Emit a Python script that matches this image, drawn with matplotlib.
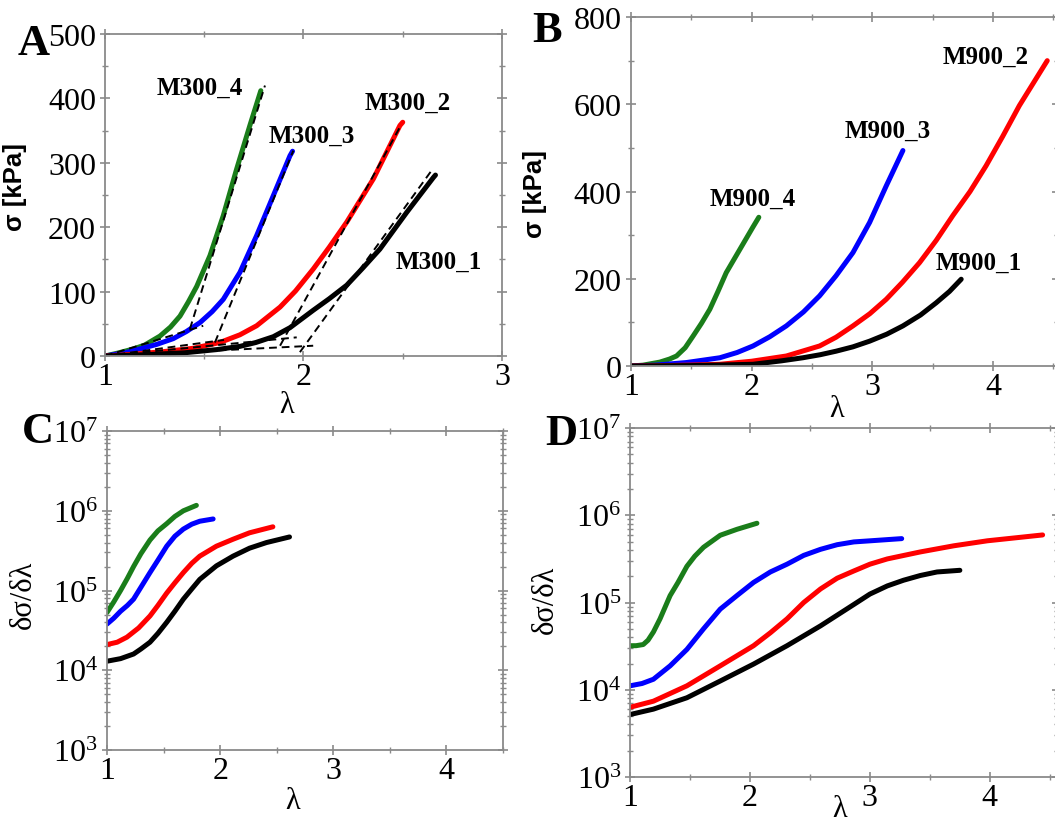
import numpy as np
import matplotlib
matplotlib.use("Agg")
from matplotlib import pyplot as plt
from matplotlib.ticker import MultipleLocator, LogLocator, NullFormatter

plt.rcParams['font.family'] = ['Liberation Serif', 'DejaVu Serif']
plt.rcParams['mathtext.fontset'] = 'custom'
plt.rcParams['mathtext.rm'] = 'Liberation Serif'
plt.rcParams['mathtext.it'] = 'Liberation Serif:italic'

GREEN, BLUE, RED, BLACK = '#1a7d1a', '#0000ff', '#ff0000', '#000000'
SPINE = '#8a8a8a'

# ---- panel A : M300 stress-stretch ----
a4_x = [1.0, 1.07, 1.143, 1.20, 1.277, 1.33, 1.378, 1.42, 1.462, 1.529, 1.596, 1.663, 1.730, 1.785]
a4_y = [0, 5, 11, 17, 31, 45, 62, 84, 108, 156, 218, 290, 358, 412]
a3_x = [1.0, 1.1, 1.176, 1.26, 1.344, 1.41, 1.479, 1.54, 1.596, 1.68, 1.764, 1.848, 1.932, 1.945]
a3_y = [0, 5, 11, 18, 27, 38, 52, 69, 88, 130, 187, 249, 311, 318]
a2_x = [1.0, 1.15, 1.3, 1.445, 1.579, 1.68, 1.764, 1.882, 1.96, 2.049, 2.13, 2.218, 2.352, 2.486, 2.50]
a2_y = [0, 3, 7, 12, 21, 33, 47, 76, 101, 135, 169, 208, 275, 358, 363]
a1_x = [1.0, 1.2, 1.4, 1.563, 1.68, 1.76, 1.848, 1.932, 2.049, 2.13, 2.218, 2.30, 2.385, 2.52, 2.654, 2.665]
a1_y = [0, 2, 5, 10, 15, 21, 30, 44, 71, 89, 110, 137, 166, 223, 277, 281]

# tangent lines (low / high strain) : (x0, x1), (y0, y1)
tan_low = [((1.0, 1.495), (0, 47)), ((1.0, 1.60), (0, 25)),
           ((1.0, 1.966), (0, 29)), ((1.0, 2.049), (0, 16))]
tan_high = [((1.428, 1.806), (42, 420)), ((1.554, 1.949), (21, 319)),
            ((1.882, 2.494), (16, 360)), ((1.982, 2.65), (6, 290))]

a_labels = ['M300_4', 'M300_3', 'M300_2', 'M300_1']
a_label_pos = [(1.479, 418), (2.043, 343), (2.526, 394), (2.68, 147)]

# ---- panel B : M900 stress-stretch ----
b4_x = [1.0, 1.1, 1.24, 1.32, 1.378, 1.45, 1.516, 1.585, 1.654, 1.72, 1.79, 1.90, 2.01, 2.06]
b4_y = [0, 2, 9, 16, 23, 42, 69, 98, 130, 170, 214, 266, 318, 341]
b3_x = [1.0, 1.2, 1.46, 1.737, 1.88, 2.012, 2.15, 2.288, 2.43, 2.564, 2.70, 2.84, 2.978, 3.116, 3.254]
b3_y = [0, 2, 8, 19, 31, 46, 67, 92, 124, 161, 207, 260, 329, 413, 494]
b2_x = [1.0, 1.3, 1.737, 2.0, 2.288, 2.564, 2.70, 2.84, 2.98, 3.116, 3.25, 3.392, 3.53,
        3.668, 3.81, 3.943, 4.08, 4.219, 4.45]
b2_y = [0, 1, 4, 11, 23, 46, 66, 92, 120, 153, 192, 237, 288, 345, 400, 459, 526, 597, 700]
b1_x = [1.0, 1.5, 2.012, 2.25, 2.426, 2.57, 2.70, 2.84, 2.978, 3.12, 3.254, 3.40, 3.53, 3.64, 3.737]
b1_y = [0, 1, 4, 12, 19, 26, 34, 44, 57, 73, 92, 117, 145, 171, 199]

b_labels = ['M900_4', 'M900_3', 'M900_2', 'M900_1']
b_label_pos = [(2.01, 385), (3.13, 541), (3.94, 709), (3.88, 238)]

# ---- panel C : M300 tangent modulus ----
c4_x = [1.0, 1.06, 1.12, 1.18, 1.235, 1.30, 1.38, 1.45, 1.528, 1.60, 1.675, 1.79]
c4_y = [5.3e4, 7.2e4, 1.0e5, 1.42e5, 2.0e5, 2.9e5, 4.3e5, 5.6e5, 6.9e5, 8.5e5, 1.0e6, 1.17e6]
c3_x = [1.0, 1.06, 1.12, 1.18, 1.235, 1.30, 1.38, 1.45, 1.528, 1.60, 1.675, 1.75, 1.82, 1.938]
c3_y = [3.8e4, 4.5e4, 5.5e4, 6.5e4, 7.8e4, 1.1e5, 1.68e5, 2.4e5, 3.6e5, 4.8e5, 5.9e5, 6.8e5, 7.4e5, 7.9e5]
c2_x = [1.0, 1.09, 1.176, 1.28, 1.38, 1.45, 1.528, 1.60, 1.675, 1.75, 1.82, 1.967, 2.114, 2.26, 2.466]
c2_y = [2.1e4, 2.25e4, 2.6e4, 3.4e4, 4.8e4, 6.5e4, 9.3e4, 1.25e5, 1.68e5, 2.2e5, 2.7e5,
        3.6e5, 4.4e5, 5.3e5, 6.3e5]
c1_x = [1.0, 1.12, 1.235, 1.30, 1.38, 1.45, 1.528, 1.60, 1.675, 1.75, 1.82, 1.967, 2.114,
        2.26, 2.41, 2.613]
c1_y = [1.3e4, 1.4e4, 1.6e4, 1.85e4, 2.25e4, 2.9e4, 4.0e4, 5.5e4, 7.8e4, 1.05e5, 1.38e5,
        2.04e5, 2.7e5, 3.4e5, 4.0e5, 4.7e5]

# ---- panel D : M900 tangent modulus ----
d4_x = [1.0, 1.05, 1.11, 1.15, 1.195, 1.25, 1.334, 1.40, 1.474, 1.54, 1.613, 1.752, 1.891, 2.058]
d4_y = [3.2e4, 3.2e4, 3.3e4, 3.7e4, 4.6e4, 6.5e4, 1.2e5, 1.7e5, 2.6e5, 3.4e5, 4.3e5,
        5.9e5, 6.9e5, 8.1e5]
d3_x = [1.0, 1.1, 1.195, 1.334, 1.474, 1.613, 1.752, 1.891, 2.03, 2.17, 2.309,
        2.448, 2.588, 2.727, 2.866, 3.005, 3.265]
d3_y = [1.11e4, 1.18e4, 1.32e4, 1.88e4, 2.9e4, 5.0e4, 8.4e4, 1.2e5, 1.7e5, 2.24e5, 2.75e5,
        3.47e5, 4.07e5, 4.6e5, 4.95e5, 5.1e5, 5.4e5]
d2_x = [1.0, 1.195, 1.474, 1.752, 2.03, 2.17, 2.309, 2.448, 2.588, 2.727, 2.866,
        3.0, 3.145, 3.42, 3.70, 3.98, 4.26, 4.44]
d2_y = [6.3e3, 7.4e3, 1.11e4, 1.88e4, 3.2e4, 4.5e4, 6.5e4, 1.0e5, 1.43e5, 1.9e5, 2.3e5,
        2.75e5, 3.16e5, 3.8e5, 4.47e5, 5.1e5, 5.6e5, 5.95e5]
d1_x = [1.0, 1.195, 1.474, 1.752, 2.03, 2.309, 2.588, 2.866, 3.0, 3.145, 3.28,
        3.42, 3.56, 3.75]
d1_y = [5.2e3, 6.0e3, 8.1e3, 1.26e4, 1.97e4, 3.2e4, 5.4e4, 9.5e4, 1.25e5, 1.55e5, 1.8e5,
        2.04e5, 2.24e5, 2.34e5]

colors = [GREEN, BLUE, RED, BLACK]


def style_axes(ax):
    for s in ax.spines.values():
        s.set_color(SPINE)
        s.set_linewidth(1.3)
    ax.tick_params(which='both', direction='inout', top=True, right=True,
                   color=SPINE, labelsize=23, pad=3)
    ax.tick_params(which='major', length=7, width=1.2)
    ax.tick_params(which='minor', length=5, width=1.0)
    ax.tick_params(axis='x', which='major', pad=1)


fig = plt.figure(figsize=(10.55, 8.2), dpi=100)

axA = fig.add_axes([0.0995, 0.5646, 0.3763, 0.3927])
axB = fig.add_axes([0.598, 0.5524, 0.4038, 0.4256])
axC = fig.add_axes([0.1014, 0.0841, 0.3754, 0.389])
axD = fig.add_axes([0.5972, 0.0512, 0.4047, 0.4256])

# panel A
for (x, y), c in zip([(a4_x, a4_y), (a3_x, a3_y), (a2_x, a2_y), (a1_x, a1_y)], colors):
    axA.plot(x, y, color=c, lw=3.6, solid_capstyle='round', solid_joinstyle='round')
for (xs, ys) in tan_low + tan_high:
    axA.plot(xs, ys, color='black', lw=1.4, ls=(0, (4, 2.5)))
for lab, (x, y) in zip(a_labels, a_label_pos):
    axA.text(x, y, lab, fontsize=18, fontweight='bold', ha='center', va='center')
axA.set_xlim(1, 3)
axA.set_ylim(0, 500)
axA.xaxis.set_major_locator(MultipleLocator(1))
axA.xaxis.set_minor_locator(MultipleLocator(0.5))
axA.yaxis.set_major_locator(MultipleLocator(100))
axA.yaxis.set_minor_locator(MultipleLocator(50))
style_axes(axA)

# panel B
for (x, y), c in zip([(b4_x, b4_y), (b3_x, b3_y), (b2_x, b2_y), (b1_x, b1_y)], colors):
    axB.plot(x, y, color=c, lw=3.6, solid_capstyle='round', solid_joinstyle='round')
for lab, (x, y) in zip(b_labels, b_label_pos):
    axB.text(x, y, lab, fontsize=18, fontweight='bold', ha='center', va='center')
axB.set_xlim(1, 4.53)
axB.set_ylim(0, 800)
axB.xaxis.set_major_locator(MultipleLocator(1))
axB.xaxis.set_minor_locator(MultipleLocator(0.5))
axB.yaxis.set_major_locator(MultipleLocator(200))
axB.yaxis.set_minor_locator(MultipleLocator(100))
style_axes(axB)

# panels C, D
for ax, series, xmax in [(axC, [(c4_x, c4_y), (c3_x, c3_y), (c2_x, c2_y), (c1_x, c1_y)], 4.5),
                         (axD, [(d4_x, d4_y), (d3_x, d3_y), (d2_x, d2_y), (d1_x, d1_y)], 4.56)]:
    for (x, y), c in zip(series, colors):
        ax.plot(x, y, color=c, lw=3.6, solid_capstyle='round', solid_joinstyle='round')
    ax.set_yscale('log')
    ax.set_xlim(1, xmax)
    ax.set_ylim(1e3, 1e7)
    ax.xaxis.set_major_locator(MultipleLocator(1))
    ax.xaxis.set_minor_locator(MultipleLocator(0.5))
    ax.yaxis.set_major_locator(LogLocator(base=10, numticks=10))
    ax.yaxis.set_minor_locator(LogLocator(base=10, subs=np.arange(2, 10), numticks=20))
    ax.yaxis.set_minor_formatter(NullFormatter())
    style_axes(ax)

# axis labels
for ax, (lx, ly), (yx, yy) in [(axA, (0.458, -0.105), (-0.196, 0.528)),
                               (axB, (0.484, -0.08), (-0.197, 0.496))]:
    ax.set_xlabel('λ', fontsize=22)
    ax.xaxis.set_label_coords(lx, ly)
    ax.set_ylabel('σ [kPa]', fontsize=18.5, fontweight='bold', family='Liberation Sans')
    ax.yaxis.set_label_coords(yx, yy)

for ax, (lx, ly), (yx, yy) in [(axC, (0.47, -0.112), (-0.174, 0.489)),
                               (axD, (0.492, -0.048), (-0.164, 0.51))]:
    ax.set_xlabel('λ', fontsize=22)
    ax.xaxis.set_label_coords(lx, ly)
    ax.set_ylabel('δσ/δλ', fontsize=22)
    ax.yaxis.set_label_coords(yx, yy)

# panel letters
for s, x, y in [('A', 18, 55), ('B', 532, 42), ('C', 22, 443), ('D', 545, 445)]:
    fig.text(x / 1055, 1 - y / 820, s, fontsize=32, fontweight='bold',
             ha='left', va='baseline')

fig.savefig('out.png', dpi=100)
